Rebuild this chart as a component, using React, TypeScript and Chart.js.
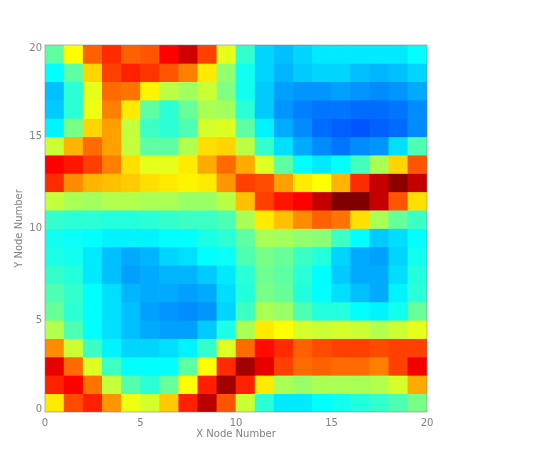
import React, { useEffect, useRef } from "react";
import { Chart, registerables } from "chart.js";

Chart.register(...registerables);

const xTitle = "X Node Number";
const yTitle = "Y Node Number";
const nodeCount = 20;
const tickStep = 5;

// Colour-scale values, one list per row of nodes.
const row19 = [46, 65, 80, 85, 80, 81, 89, 93, 83, 62, 41, 31, 29, 31, 33, 33, 33, 33, 33, 35];
const row18 = [35, 46, 69, 83, 86, 84, 81, 77, 67, 52, 37, 31, 28, 30, 31, 31, 29, 28, 29, 31];
const row17 = [29, 40, 62, 79, 78, 66, 57, 54, 59, 50, 37, 30, 26, 25, 25, 26, 25, 24, 25, 27];
const row16 = [30, 40, 63, 77, 67, 46, 40, 47, 55, 54, 40, 30, 25, 23, 22, 22, 21, 21, 22, 24];
const row15 = [34, 49, 69, 74, 58, 42, 40, 44, 60, 61, 46, 34, 27, 24, 21, 20, 19, 20, 21, 24];
const row14 = [59, 72, 79, 74, 58, 46, 46, 56, 68, 69, 57, 41, 32, 27, 24, 22, 24, 25, 32, 44];
const row13 = [89, 87, 83, 77, 68, 62, 62, 67, 73, 79, 73, 61, 46, 35, 33, 35, 43, 55, 69, 81];
const row12 = [85, 76, 72, 71, 70, 68, 67, 66, 67, 75, 83, 82, 74, 67, 65, 72, 85, 94, 99, 94];
const row11 = [58, 55, 54, 56, 56, 55, 55, 53, 53, 57, 71, 83, 87, 89, 94, 100, 100, 94, 81, 68];
const row10 = [41, 40, 40, 39, 39, 40, 41, 42, 42, 44, 55, 67, 71, 76, 80, 78, 68, 55, 47, 42];
const row9 = [37, 36, 35, 34, 34, 34, 35, 35, 38, 40, 46, 55, 54, 52, 51, 42, 35, 30, 32, 35];
const row8 = [38, 37, 33, 29, 27, 28, 31, 32, 35, 36, 44, 49, 47, 42, 39, 31, 27, 26, 31, 37];
const row7 = [41, 39, 33, 29, 26, 27, 28, 28, 30, 33, 40, 48, 46, 40, 35, 30, 27, 27, 32, 39];
const row6 = [44, 41, 35, 32, 28, 27, 27, 26, 27, 32, 39, 49, 47, 39, 35, 32, 29, 27, 34, 40];
const row5 = [47, 40, 35, 32, 29, 26, 25, 24, 25, 31, 42, 55, 53, 44, 39, 39, 35, 34, 37, 47];
const row4 = [56, 44, 35, 32, 29, 27, 26, 26, 30, 38, 55, 67, 65, 60, 59, 60, 59, 56, 59, 62];
const row3 = [76, 59, 42, 34, 31, 31, 32, 34, 41, 61, 79, 88, 85, 80, 82, 83, 83, 82, 83, 83];
const row2 = [91, 79, 61, 42, 35, 35, 35, 46, 65, 85, 97, 91, 83, 79, 80, 79, 79, 77, 83, 90];
const row1 = [86, 89, 78, 58, 45, 40, 47, 65, 86, 97, 86, 67, 55, 53, 55, 55, 55, 56, 60, 73];
const row0 = [67, 82, 86, 75, 63, 60, 70, 86, 95, 81, 59, 40, 33, 33, 35, 37, 39, 41, 44, 49];

const rows = [row0, row1, row2, row3, row4, row5, row6, row7, row8, row9, row10, row11, row12, row13, row14, row15, row16, row17, row18, row19];

const stopValues = [0, 11, 23, 35, 50, 65, 77, 89, 100];
const stopColours = [
  [0, 0, 128],
  [0, 0, 255],
  [0, 128, 255],
  [0, 255, 255],
  [128, 255, 128],
  [255, 255, 0],
  [255, 128, 0],
  [255, 0, 0],
  [128, 0, 0],
];

function colourOf(v: number): string {
  let i = 0;
  while (i < stopValues.length - 2 && v > stopValues[i + 1]) i++;
  const t = (v - stopValues[i]) / (stopValues[i + 1] - stopValues[i]);
  const a = stopColours[i];
  const b = stopColours[i + 1];
  const c = a.map((p, k) => Math.round(p + (b[k] - p) * t));
  return `rgb(${c[0]},${c[1]},${c[2]})`;
}

const axisColour = "#808080";
const axisFont = { family: "'DejaVu Sans'", size: 10 };

const framePlugin = {
  id: "frame",
  beforeDraw(chart: any) {
    // The first and last Y labels sit slightly inside the axis ends.
    const items = chart.scales.y.getLabelItems();
    items.forEach((item: any) => {
      if (item.label === "0" && !item.moved) { item.options.translation[1] -= 3; item.moved = true; }
      if (item.label === "20" && !item.moved) { item.options.translation[1] += 3; item.moved = true; }
    });
  },
  afterDatasetsDraw(chart: any) {
    const { left, top, width, height } = chart.chartArea;
    const ctx = chart.ctx;
    ctx.save();
    ctx.strokeStyle = "rgba(128,128,128,0.55)";
    ctx.lineWidth = 1;
    ctx.strokeRect(left, top, width, height);
    ctx.restore();
  },
};

export default function App() {
  const ref = useRef<HTMLCanvasElement>(null);
  useEffect(() => {
    const points: any[] = [];
    const colours: string[] = [];
    rows.forEach((row, j) =>
      row.forEach((v, i) => {
        points.push({ x: i + 0.5, y: [j, j + 1] });
        colours.push(colourOf(v));
      })
    );
    const chart = new Chart(ref.current!, {
      type: "bar",
      data: {
        datasets: [
          {
            data: points,
            backgroundColor: colours,
            borderWidth: 0,
            barPercentage: 1,
            categoryPercentage: 1,
          },
        ],
      },
      options: {
        animation: false,
        responsive: false,
        layout: { padding: { top: 45, right: 107, bottom: 0, left: 0 } },
        plugins: { legend: { display: false }, tooltip: { enabled: false } },
        scales: {
          x: {
            type: "linear",
            offset: false,
            min: 0,
            max: nodeCount,
            afterFit: (s: any) => { s.height = 46; },
            grid: { display: false, drawTicks: false },
            border: { display: false },
            ticks: { stepSize: tickStep, color: axisColour, font: axisFont, padding: 5, maxRotation: 0 },
            title: { display: true, text: xTitle, color: axisColour, font: axisFont, padding: { top: 0, bottom: 18 } },
          },
          y: {
            type: "linear",
            min: 0,
            max: nodeCount,
            afterFit: (s: any) => { s.width = 45; },
            grid: { display: false, drawTicks: false },
            border: { display: false },
            ticks: { stepSize: tickStep, color: axisColour, font: axisFont, padding: 3 },
            title: { display: true, text: yTitle, color: axisColour, font: axisFont, padding: { top: 13, bottom: 0 } },
          },
        },
      },
      plugins: [framePlugin],
    } as any);
    return () => chart.destroy();
  }, []);
  return (
    <div style={{ position: "absolute", left: 0, top: 0 }}>
      <canvas ref={ref} width={534} height={458} style={{ display: "block" }} />
    </div>
  );
}
